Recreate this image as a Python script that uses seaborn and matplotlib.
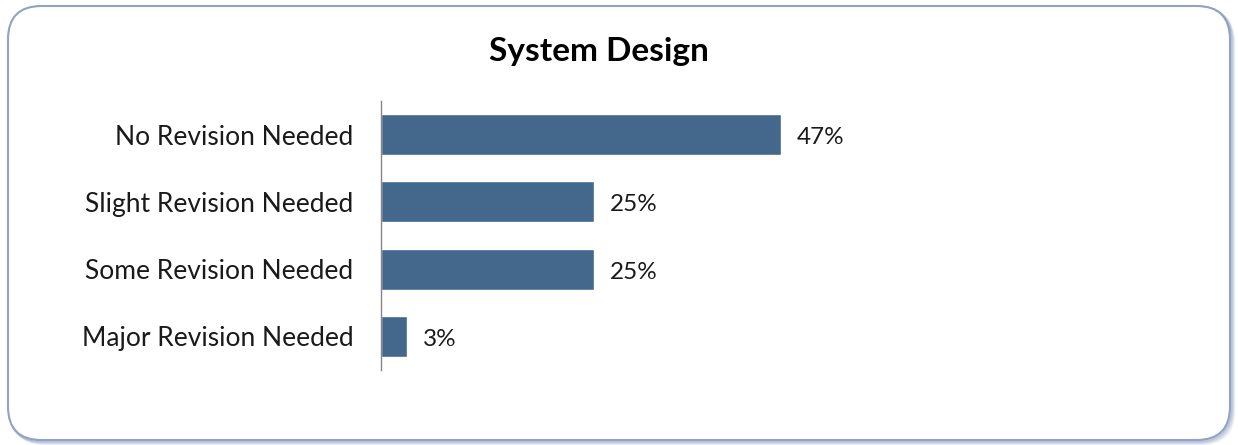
import matplotlib
matplotlib.use("Agg")
import matplotlib.pyplot as plt
import seaborn as sns
import pandas as pd
from matplotlib.patches import FancyBboxPatch

categories = ["No Revision Needed", "Slight Revision Needed", "Some Revision Needed", "Major Revision Needed"]
values = [47, 25, 25, 3]
value_labels = ["47%", "25%", "25%", "3%"]
title = "System Design"

sns.set_theme(style="white")
plt.rcParams['font.family'] = ['Lato', 'DejaVu Sans']

W, H = 1238, 445
fig = plt.figure(figsize=(W / 100, H / 100), dpi=100)

RS = 0.027
for i, a in enumerate([0.10, 0.16, 0.24, 0.35]):
    off = 4 - i
    shadow = FancyBboxPatch((8 / W + off / W, 1 - (440 + off) / H), 1222 / W, 434 / H,
                            boxstyle=f"round,pad=0,rounding_size={RS}", transform=fig.transFigure,
                            facecolor="none", edgecolor="#7f93b5", linewidth=2.0, alpha=a,
                            mutation_aspect=W / H, zorder=-3)
    fig.patches.append(shadow)
frame = FancyBboxPatch((8 / W, 1 - 440 / H), 1222 / W, 434 / H,
                       boxstyle=f"round,pad=0,rounding_size={RS}", transform=fig.transFigure,
                       facecolor="white", edgecolor="#8fa3c6", linewidth=1.5,
                       mutation_aspect=W / H, zorder=-2)
fig.patches.append(frame)

ax = fig.add_axes([381 / W, 75 / H, 800 / W, 269 / H])
ax.set_facecolor("none")
df = pd.DataFrame({"cat": categories, "val": values})
sns.barplot(data=df, x="val", y="cat", orient="h", color="#44678c", saturation=1,
            width=0.61, ax=ax)
ax.set_xlim(0, 94)
ax.set_ylim(3.5, -0.5)
ax.set_xlabel("")
ax.set_ylabel("")
ax.set_xticks([])
for s in ["top", "right", "bottom"]:
    ax.spines[s].set_visible(False)
ax.spines["left"].set_color("#868686")
ax.spines["left"].set_linewidth(1.0)
ax.tick_params(axis="y", length=0, pad=20, labelsize=19, labelcolor="#1a1a1a")

for i, (v, lab) in enumerate(zip(values, value_labels)):
    ax.annotate(lab, (v, i), xytext=(16, -3), textcoords="offset pixels",
                va="center", ha="left", fontsize=17.5, color="#1a1a1a")

fig.text(599 / W, 1 - 51 / H, title, ha="center", va="center", fontsize=24,
         fontweight="bold", color="black")

fig.savefig("out.png", dpi=100)
